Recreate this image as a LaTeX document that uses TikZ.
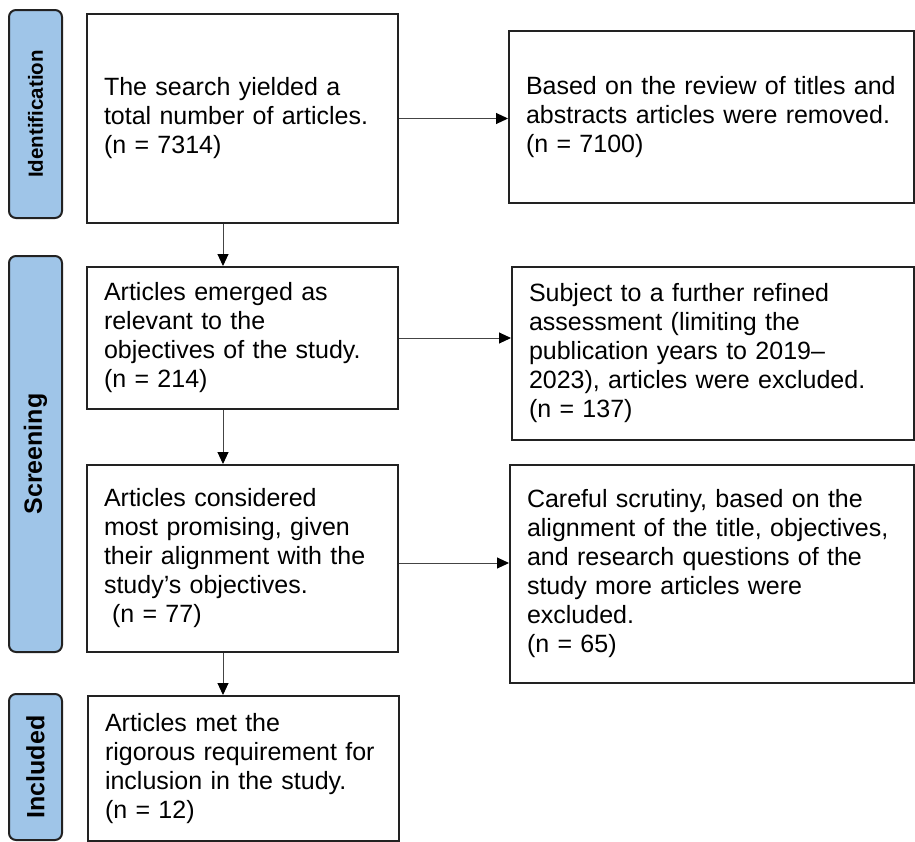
\documentclass[tikz,border=0pt]{standalone}
\usepackage{fontspec}
\setmainfont{Liberation Sans}
\usetikzlibrary{arrows.meta}
\definecolor{barblue}{HTML}{9FC5E8}
\definecolor{edge}{HTML}{222222}
\definecolor{conn}{HTML}{444444}
\begin{document}
\begin{tikzpicture}[x=1pt,y=-1pt,
  flowbox/.style={draw=edge, line width=2pt, fill=white, anchor=north west,
    inner xsep=17pt, inner ysep=0pt, align=left,
    font=\fontsize{25}{29}\selectfont},
  sidebar/.style={draw=edge, line width=2pt, fill=barblue, rounded corners=7pt,
    rotate=90, inner sep=0pt, font=\bfseries},
  arr/.style={draw=conn, line width=1pt, -{Triangle[length=12pt,width=11pt,color=black]}}
]
\useasboundingbox (0,0) rectangle (915,841);

% side bars
\node[sidebar, minimum width=208pt, minimum height=53pt,
  font=\bfseries\fontsize{20.5}{24}\selectfont] (s1) at (35.5,114) {Identification};
\node[sidebar, minimum width=396pt, minimum height=53pt,
  font=\bfseries\fontsize{25}{29}\selectfont] (s2) at (35.5,454) {Screening};
\node[sidebar, minimum width=146pt, minimum height=53pt,
  font=\bfseries\fontsize{25}{29}\selectfont] (s3) at (35.5,767) {Included};

% left column
\node[flowbox, minimum width=311pt, minimum height=209pt, text width=277pt] (b1) at (86,13)
  {The search yielded a\\ total number of articles.\\ (n = 7314)};
\node[flowbox, minimum width=311pt, minimum height=142pt, text width=277pt] (b2) at (86,266)
  {Articles emerged as\\ relevant to the\\ objectives of the study.\\ (n = 214)};
\node[flowbox, minimum width=311pt, minimum height=187pt, text width=277pt] (b3) at (86,464)
  {Articles considered\\ most promising, given\\ their alignment with the\\ study’s objectives.\\ \hspace*{8pt}(n = 77)};
\node[flowbox, minimum width=311pt, minimum height=145pt, text width=277pt] (b4) at (87,695)
  {Articles met the\\ rigorous requirement for\\ inclusion in the study.\\ (n = 12)};

% right column
\node[flowbox, minimum width=405pt, minimum height=172pt, text width=371pt] (r1) at (508,30)
  {Based on the review of titles and\\ abstracts articles were removed.\\ (n = 7100)};
\node[flowbox, minimum width=402pt, minimum height=173pt, text width=368pt] (r2) at (511,266)
  {Subject to a further refined\\ assessment (limiting the\\ publication years to 2019–\\ 2023), articles were excluded.\\ (n = 137)};
\node[flowbox, minimum width=404pt, minimum height=218pt, text width=370pt] (r3) at (509,464)
  {Careful scrutiny, based on the\\ alignment of the title, objectives,\\ and research questions of the\\ study more articles were\\ excluded.\\ (n = 65)};

% connectors
\coordinate (ax) at (223,0);
\draw[arr] (b1.south -| ax) -- (b2.north -| ax);
\draw[arr] (b2.south -| ax) -- (b3.north -| ax);
\draw[arr] (b3.south -| ax) -- (b4.north -| ax);
\draw[arr] (b1.east) -- (b1.east -| r1.west);
\draw[arr] (b2.east) -- (b2.east -| r2.west);
\draw[arr] ([yshift=-4.5pt]b3.east) -- ([yshift=-4.5pt]b3.east -| r3.west);
\end{tikzpicture}
\end{document}
